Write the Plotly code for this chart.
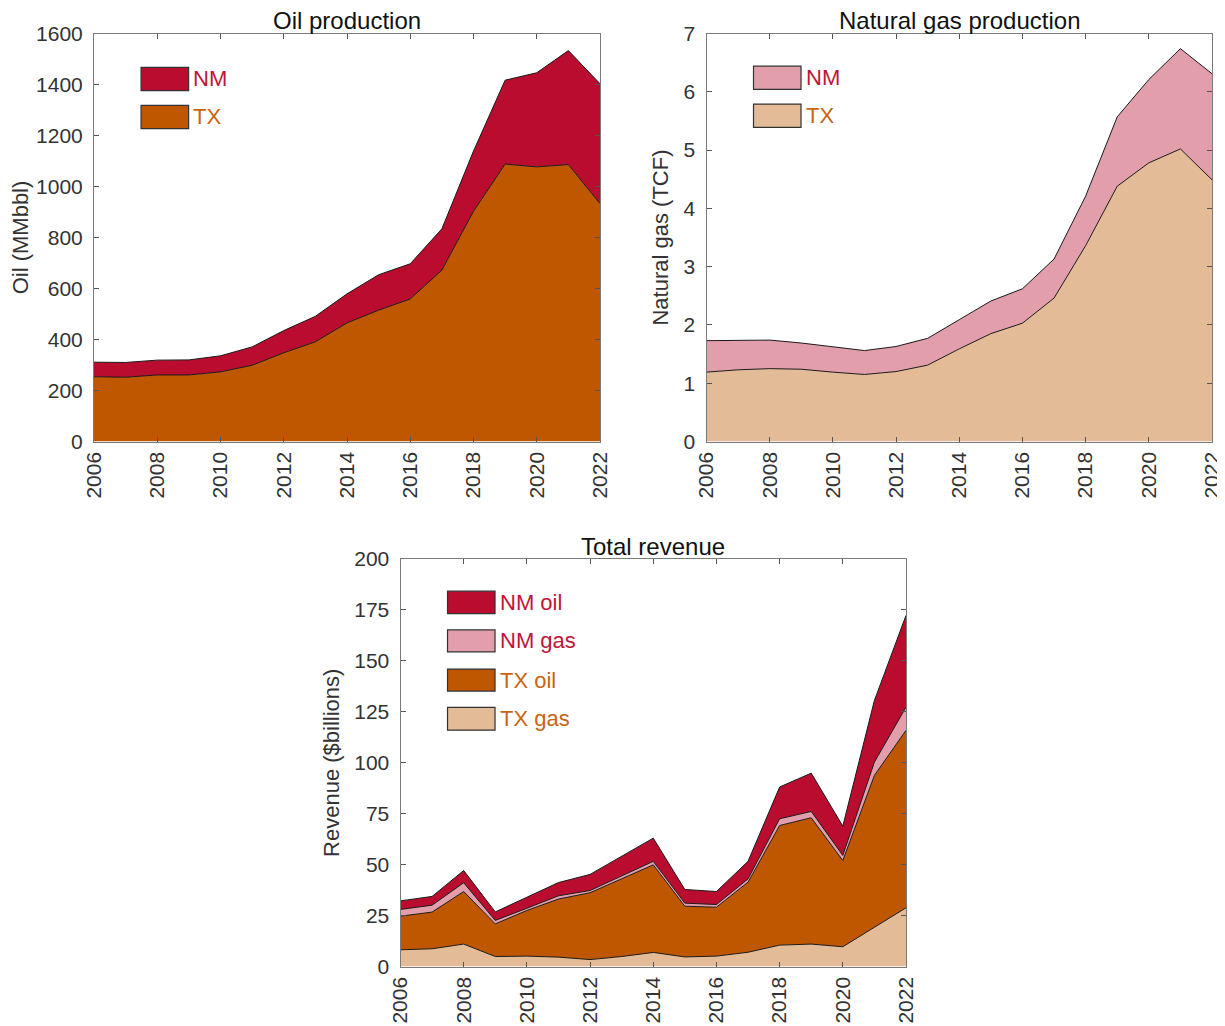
import plotly.graph_objects as go

years = list(range(2006, 2023))

# Oil production (MMbbl)
oil_tx = [254, 252, 261, 261, 273, 299, 348, 391, 465, 515, 559, 672, 903, 1088, 1077, 1086, 933]
oil_nm = [57, 58, 58, 59, 63, 72, 87, 100, 114, 139, 138, 162, 236, 329, 369, 447, 470]

# Natural gas production (TCF)
gas_tx = [1.19, 1.23, 1.25, 1.24, 1.19, 1.15, 1.20, 1.31, 1.59, 1.85, 2.03, 2.46, 3.36, 4.38, 4.78, 5.02, 4.49]
gas_nm = [0.54, 0.51, 0.49, 0.45, 0.43, 0.41, 0.43, 0.46, 0.50, 0.56, 0.59, 0.67, 0.85, 1.19, 1.43, 1.72, 1.82]

# Revenue ($billions)
rev_tx_gas = [8.2, 8.7, 11.0, 4.9, 5.1, 4.6, 3.4, 4.9, 6.9, 4.7, 5.1, 7.0, 10.5, 11.0, 9.7, 19.3, 28.8]
rev_tx_oil = [16.5, 18.0, 25.8, 16.0, 22.4, 28.5, 32.8, 38.1, 43.0, 24.9, 24.0, 34.4, 58.7, 62.0, 42.3, 74.5, 87.1]
rev_nm_gas = [3.3, 3.4, 4.3, 1.7, 1.1, 1.6, 1.1, 1.4, 1.7, 1.5, 1.3, 1.6, 3.3, 3.1, 2.5, 6.5, 11.4]
rev_nm_oil = [4.2, 4.3, 6.0, 4.2, 5.4, 6.5, 7.9, 9.6, 11.4, 6.7, 6.4, 8.6, 15.6, 18.8, 14.4, 30.3, 45.0]

x_ticks = list(range(2006, 2023, 2))
oil_ticks = list(range(0, 1601, 200))
gas_ticks = list(range(0, 8))
rev_ticks = list(range(0, 201, 25))

C_NM_OIL = "#BA0C2F"
C_NM_GAS = "#E29EAB"
C_TX_OIL = "#BF5700"
C_TX_GAS = "#E3BB97"
T_NM = "#C0143A"
T_TX = "#CC6410"
FONT = "Liberation Sans, Arial, sans-serif"
LINE = dict(color="#1a1a1a", width=1)

fig = go.Figure()

def area(x, y, name, color, xa, ya, group):
    fig.add_trace(go.Scatter(x=x, y=y, name=name, mode="lines", line=LINE,
                             fillcolor=color, stackgroup=group,
                             xaxis=xa, yaxis=ya, showlegend=False))

area(years, oil_tx, "TX", C_TX_OIL, "x", "y", "oil")
area(years, oil_nm, "NM", C_NM_OIL, "x", "y", "oil")
area(years, gas_tx, "TX", C_TX_GAS, "x2", "y2", "gas")
area(years, gas_nm, "NM", C_NM_GAS, "x2", "y2", "gas")
area(years, rev_tx_gas, "TX gas", C_TX_GAS, "x3", "y3", "rev")
area(years, rev_tx_oil, "TX oil", C_TX_OIL, "x3", "y3", "rev")
area(years, rev_nm_gas, "NM gas", C_NM_GAS, "x3", "y3", "rev")
area(years, rev_nm_oil, "NM oil", C_NM_OIL, "x3", "y3", "rev")

# The page body has an 8px default margin; size the figure to fill the rest.
OFF = 8
W, H = 1225 - OFF, 1026 - OFF
def xdom(a, b):
    return [(a - OFF) / W, (b - OFF) / W]
def ydom(top, bottom):
    return [1 - (bottom - OFF) / H, 1 - (top - OFF) / H]

axis_common = dict(showline=True, linecolor="#7a7a7a", linewidth=1, mirror="ticks",
                   ticks="inside", ticklen=5, tickcolor="#555", showgrid=False,
                   zeroline=False, automargin=False,
                   tickfont=dict(family=FONT, size=21, color="#333"))
ytitle_font = dict(family=FONT, size=22, color="#333")

xcommon = dict(axis_common, range=[2006, 2022], tickvals=x_ticks, tickangle=-90,
               ticklabelstandoff=1)
fig.update_layout(
    xaxis=dict(xcommon, domain=xdom(94, 600), anchor="y"),
    yaxis=dict(axis_common, domain=ydom(33.5, 441.5), anchor="x",
               range=[0, 1600], tickvals=oil_ticks, ticklabelstandoff=6,
               title=dict(text="Oil (MMbbl)", font=ytitle_font, standoff=8)),
    xaxis2=dict(xcommon, domain=xdom(706.5, 1212), anchor="y2"),
    yaxis2=dict(axis_common, domain=ydom(33.5, 441.5), anchor="x2",
                range=[0, 7], tickvals=gas_ticks, ticklabelstandoff=6,
                title=dict(text="Natural gas (TCF)", font=ytitle_font, standoff=8)),
    xaxis3=dict(xcommon, domain=xdom(400.5, 906), anchor="y3"),
    yaxis3=dict(axis_common, domain=ydom(559, 966.5), anchor="x3",
                range=[0, 200], tickvals=rev_ticks, ticklabelstandoff=6,
                title=dict(text="Revenue ($billions)", font=ytitle_font, standoff=8)),
    width=W, height=H, margin=dict(l=0, r=0, t=0, b=0),
    paper_bgcolor="white", plot_bgcolor="white", showlegend=False,
    font=dict(family=FONT, color="#222"),
)

# Subplot titles
titles = [("Oil production", "x domain", "y domain"),
          ("Natural gas production", "x2 domain", "y2 domain"),
          ("Total revenue", "x3 domain", "y3 domain")]
for text, xr, yr in titles:
    fig.add_annotation(text=text, x=0.5, y=1.0, xref=xr, yref=yr, xanchor="center",
                       yanchor="bottom", yshift=-3, showarrow=False,
                       font=dict(family=FONT, size=24, color="#111"))

# Manual legends (big swatches like the original)
def legend(xr, yr, items, rows):
    for (label, fill, tcol), (y0, y1) in zip(items, rows):
        fig.add_shape(type="rect", xref=xr, yref=yr, x0=0.093, x1=0.187, y0=y0, y1=y1,
                      fillcolor=fill, line=dict(color="#333", width=1.2), layer="above")
        fig.add_annotation(text=label, xref=xr, yref=yr, x=0.192, y=(y0 + y1) / 2,
                           xanchor="left", yanchor="middle", showarrow=False,
                           font=dict(family=FONT, size=22, color=tcol))

legend("x domain", "y domain",
       [("NM", C_NM_OIL, T_NM), ("TX", C_TX_OIL, T_TX)],
       [(0.860, 0.917), (0.767, 0.824)])
legend("x2 domain", "y2 domain",
       [("NM", C_NM_GAS, T_NM), ("TX", C_TX_GAS, T_TX)],
       [(0.863, 0.920), (0.770, 0.827)])
legend("x3 domain", "y3 domain",
       [("NM oil", C_NM_OIL, T_NM), ("NM gas", C_NM_GAS, T_NM),
        ("TX oil", C_TX_OIL, T_TX), ("TX gas", C_TX_GAS, T_TX)],
       [(0.866, 0.921), (0.772, 0.826), (0.676, 0.730), (0.580, 0.636)])

fig.write_html("out.html")
